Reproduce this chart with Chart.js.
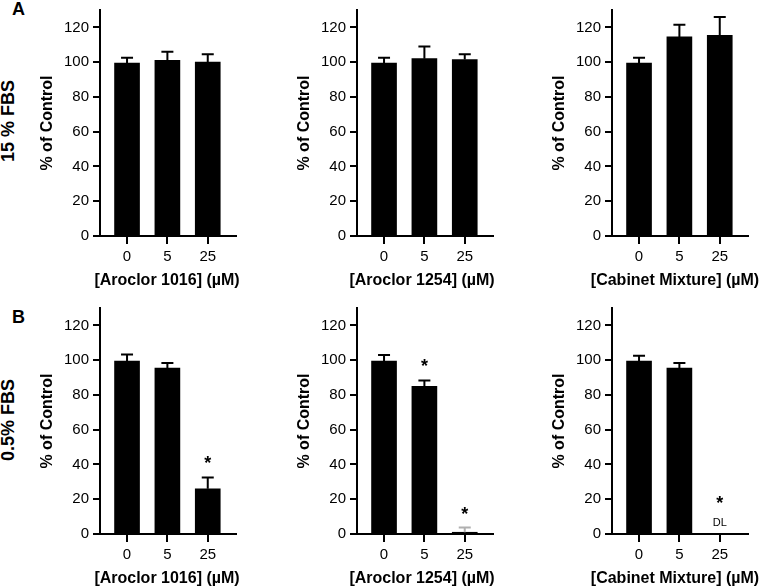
<!DOCTYPE html>
<html><head><meta charset="utf-8">
<script src="https://cdn.jsdelivr.net/npm/chart.js@4"></script>
<style>
body{margin:0;width:761px;height:586px;overflow:hidden;background:#fff;position:relative;font-family:"Liberation Sans",Arial,sans-serif;}
canvas{position:absolute;}
.lbl{position:absolute;font-weight:bold;color:#000;line-height:1;white-space:nowrap;}
.rot{transform:translate(-50%,-50%) rotate(-90deg);}
</style></head><body>
<div class="lbl" style="left:12px;top:0px;font-size:18px">A</div>
<div class="lbl" style="left:12px;top:308px;font-size:18px">B</div>
<div class="lbl rot" style="left:7.5px;top:121px;font-size:18px">15 % FBS</div>
<div class="lbl rot" style="left:7.5px;top:420px;font-size:18px">0.5% FBS</div>
<canvas id="c0" width="238" height="293" style="left:38px;top:-3px"></canvas>
<canvas id="c1" width="238" height="293" style="left:295px;top:-3px"></canvas>
<canvas id="c2" width="238" height="293" style="left:550px;top:-3px"></canvas>
<canvas id="c3" width="238" height="293" style="left:38px;top:295px"></canvas>
<canvas id="c4" width="238" height="293" style="left:295px;top:295px"></canvas>
<canvas id="c5" width="238" height="293" style="left:550px;top:295px"></canvas>
<script>
// ---- data ----
const doses = ['0', '5', '25'];
const yTicks = [0, 20, 40, 60, 80, 100, 120];
const xTitles = ['[Aroclor 1016] (\u00b5M)', '[Aroclor 1254] (\u00b5M)', '[Cabinet Mixture] (\u00b5M)'];
const yTitle = '% of Control';

// 15 % FBS
const a1016_15 = [99.5, 101, 100];
const a1016_15_err = [3, 5, 4.5];
const a1254_15 = [99.5, 102, 101.5];
const a1254_15_err = [3, 7, 3];
const cab_15 = [99.5, 114.5, 115.5];
const cab_15_err = [3, 7, 10.5];

// 0.5 % FBS
const a1016_05 = [99.5, 95.5, 26];
const a1016_05_err = [3.8, 2.8, 6.5];
const a1254_05 = [99.5, 85, 1];
const a1254_05_err = [3.5, 3.3, 2.7];
const cab_05 = [99.5, 95.5, null];
const cab_05_err = [3, 2.8, null];

// significance marks and below-detection-limit labels
const a1016_15_sig = [false, false, false];
const a1254_15_sig = [false, false, false];
const cab_15_sig = [false, false, false];
const a1016_05_sig = [false, false, true];
const a1254_05_sig = [false, true, true];
const cab_05_sig = [false, false, true];
const cab_05_note = [null, null, 'DL'];

const panels = [
  {id:'c0', mean:a1016_15, err:a1016_15_err, sig:a1016_15_sig, note:[null,null,null], title:xTitles[0], tShift:-1},
  {id:'c1', mean:a1254_15, err:a1254_15_err, sig:a1254_15_sig, note:[null,null,null], title:xTitles[1], tShift:-3},
  {id:'c2', mean:cab_15, err:cab_15_err, sig:cab_15_sig, note:[null,null,null], title:xTitles[2], tShift:-5},
  {id:'c3', mean:a1016_05, err:a1016_05_err, sig:a1016_05_sig, note:[null,null,null], title:xTitles[0], tShift:-1},
  {id:'c4', mean:a1254_05, err:a1254_05_err, sig:a1254_05_sig, note:[null,null,null], title:xTitles[1], tShift:-3, errColors:['#000','#000','#b0b0b0']},
  {id:'c5', mean:cab_05, err:cab_05_err, sig:cab_05_sig, note:cab_05_note, title:xTitles[2], tShift:-5}
];

Chart.defaults.font.family = '"Liberation Sans", Arial, sans-serif';
Chart.defaults.color = '#000';

function annotPlugin(p) {
  return {
    id: 'annot',
    afterDatasetsDraw(chart) {
      const {ctx, scales} = chart;
      const x = scales.x, y = scales.y;
      ctx.save();
      p.mean.forEach((m, i) => {
        const px = x.getPixelForValue(i);
        let markY;
        if (m !== null) {
          const top = y.getPixelForValue(m);
          const et = y.getPixelForValue(m + p.err[i]);
          ctx.strokeStyle = (p.errColors && p.errColors[i]) || '#000';
          ctx.lineWidth = 2;
          ctx.beginPath();
          ctx.moveTo(px, top);
          ctx.lineTo(px, et);
          ctx.moveTo(px - 6, et);
          ctx.lineTo(px + 6, et);
          ctx.stroke();
          markY = et - 17;
        } else {
          markY = y.getPixelForValue(0) - 34;
        }
        ctx.fillStyle = '#000';
        ctx.textAlign = 'center';
        ctx.textBaseline = 'middle';
        if (p.sig[i]) {
          ctx.font = 'bold 18px "Liberation Sans", Arial, sans-serif';
          ctx.fillText('*', px, markY + 4);
        }
        if (p.note[i]) {
          ctx.font = '11px "Liberation Sans", Arial, sans-serif';
          ctx.fillText(p.note[i], px, y.getPixelForValue(0) - 11);
        }
      });
      ctx.restore();
    },
    afterDraw(chart) {
      const {ctx, chartArea} = chart;
      ctx.save();
      ctx.fillStyle = '#000';
      ctx.font = 'bold 16px "Liberation Sans", Arial, sans-serif';
      ctx.textAlign = 'center';
      ctx.textBaseline = 'middle';
      ctx.fillText(p.title, (chartArea.left + chartArea.right) / 2 + p.tShift, chartArea.bottom + 44.5);
      ctx.restore();
    }
  };
}

panels.forEach(p => {
  const data = [];
  p.mean.forEach((m, i) => { if (m !== null) data.push({x: i, y: m}); });
  new Chart(document.getElementById(p.id), {
    type: 'bar',
    data: { datasets: [{ data, backgroundColor: '#000', borderWidth: 0, barThickness: 25 }] },
    options: {
      responsive: false,
      animation: false,
      devicePixelRatio: 1,
      layout: { padding: { left: 0, right: 40, top: 10, bottom: 0 } },
      plugins: { legend: {display: false}, tooltip: {enabled: false} },
      scales: {
        x: {
          type: 'linear', min: -0.67, max: 2.7, offset: false,
          afterBuildTicks: s => { s.ticks = doses.map((d, i) => ({value: i})); },
          afterFit: s => { s.height = 54; },
          ticks: { callback: v => doses[v], font: {size: 15}, color: '#000', padding: 4, maxRotation: 0 },
          grid: { drawOnChartArea: false, drawTicks: true, tickLength: 8, color: '#000', lineWidth: 2, offset: false },
          border: { display: true, color: '#000', width: 2 }
        },
        y: {
          min: 0, max: 130,
          afterBuildTicks: s => { s.ticks = yTicks.map(v => ({value: v})); },
          afterFit: s => { s.width = 62; },
          ticks: { font: {size: 15}, color: '#000', padding: 4 },
          grid: { drawOnChartArea: false, drawTicks: true, tickLength: 7, color: '#000', lineWidth: 2 },
          border: { display: true, color: '#000', width: 2 },
          title: { display: true, text: yTitle, font: {size: 16, weight: 'bold'}, color: '#000', padding: 0 }
        }
      }
    },
    plugins: [annotPlugin(p)]
  });
});
</script>
</body></html>
